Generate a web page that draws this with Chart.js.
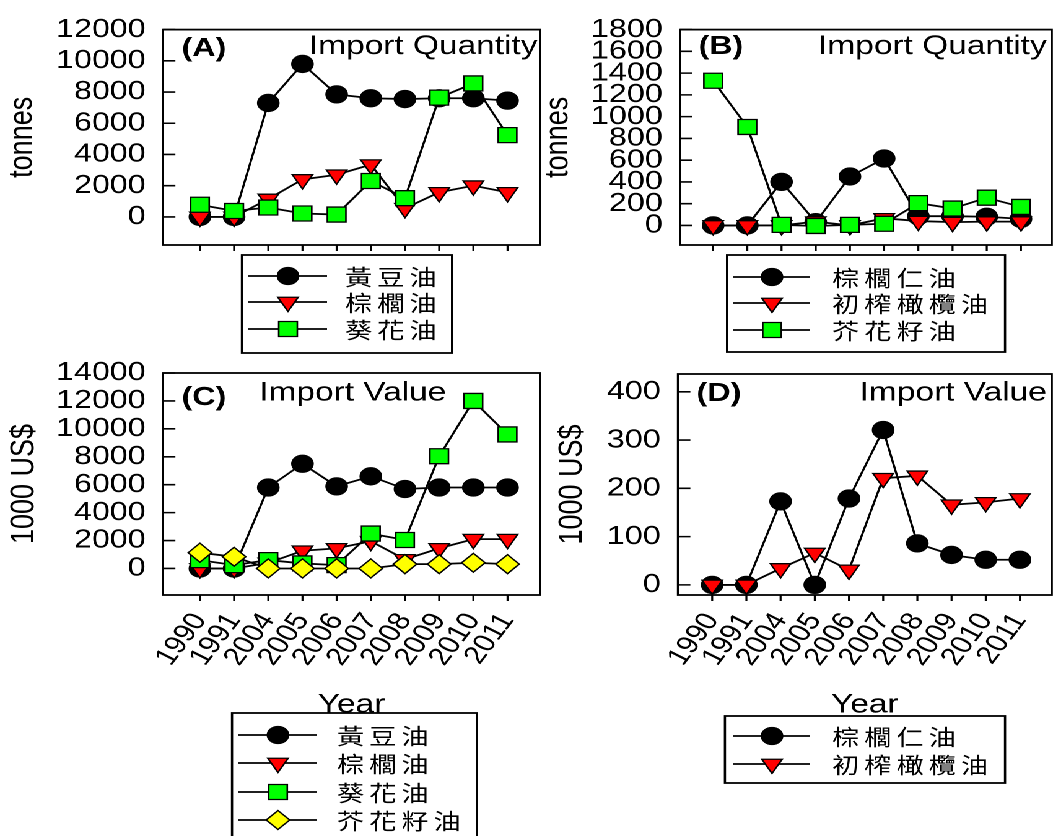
<!DOCTYPE html>
<html><head><meta charset="utf-8">
<script src="https://cdn.jsdelivr.net/npm/chart.js@4.4.1/dist/chart.umd.min.js"></script>
<style>
html,body{margin:0;padding:0;background:#fff;overflow:hidden;width:1053px;height:836px;}
#wrap{position:absolute;left:0;top:0;width:900px;height:836px;transform:scaleX(1.2388);transform-origin:0 0;}
#wrap canvas{position:absolute;left:0;top:0;}
</style></head><body>
<div id="wrap">
<canvas id="cA" width="900" height="836"></canvas>
<canvas id="cB" width="900" height="836"></canvas>
<canvas id="cC" width="900" height="836"></canvas>
<canvas id="cD" width="900" height="836"></canvas>
</div>
<script>
// ---------------- data ----------------
const years = ['1990','1991','2004','2005','2006','2007','2008','2009','2010','2011'];

// (A) Import Quantity, tonnes
const namesA = ['黃豆油','棕櫚油','葵花油'];
const soyQtyA    = [0, 0, 7300, 9800, 7850, 7600, 7550, 7600, 7600, 7450];
const palmQtyA   = [0, 0, 1150, 2400, 2700, 3350, 550, 1570, 2000, 1570];
const sunQtyA    = [780, 380, 600, 220, 150, 2300, 1200, 7640, 8550, 5240];
const yTicksA    = [0, 2000, 4000, 6000, 8000, 10000, 12000];

// (B) Import Quantity, tonnes
const namesB = ['棕櫚仁油','初榨橄欖油','芥花籽油'];
const pkQtyB     = [0, 0, 400, 30, 450, 615, 85, 85, 80, 60];
const oliveQtyB  = [0, 0, 0, 35, 0, 65, 40, 30, 35, 35];
const canolaQtyB = [1330, 905, 5, -5, 5, 15, 205, 155, 255, 170];
const yTicksB    = [0, 200, 400, 600, 800, 1000, 1200, 1400, 1600, 1800];

// (C) Import Value, 1000 US$
const namesC = ['黃豆油','棕櫚油','葵花油','芥花籽油'];
const soyValC    = [0, 0, 5800, 7500, 5880, 6600, 5690, 5800, 5800, 5800];
const palmValC   = [0, 0, 400, 1270, 1440, 1950, 650, 1440, 2100, 2100];
const sunValC    = [600, 240, 600, 360, 240, 2500, 2040, 8040, 12000, 9600];
const canolaValC = [1130, 840, 0, 0, 0, 0, 310, 310, 410, 310];
const yTicksC    = [0, 2000, 4000, 6000, 8000, 10000, 12000, 14000];

// (D) Import Value, 1000 US$
const namesD = ['棕櫚仁油','初榨橄欖油'];
const pkValD     = [0, 0, 173, 0, 179, 321, 86, 62, 52, 52];
const oliveValD  = [0, 0, 34, 66, 31, 221, 226, 166, 171, 179];
const yTicksD    = [0, 100, 200, 300, 400];

// ---------------- styles ----------------
const FONT = 'Liberation Sans';
const CW = 900;
const MK = {
  circle: {pointStyle:'circle',   pointRadius:8.5,  pointRotation:0,   color:'#000000'},
  tri:    {pointStyle:'triangle', pointRadius:9.5,  pointRotation:180, color:'#ff0000'},
  sq:     {pointStyle:'rect',     pointRadius:10.6, pointRotation:0,   color:'#00ff00'},
  dia:    {pointStyle:'rectRot',  pointRadius:9.5,  pointRotation:0,   color:'#ffff00'}
};

function series(label, vals, mk, order) {
  const m = MK[mk];
  return {
    label, data: vals.map((v, i) => ({x: i, y: v})),
    borderColor:'#000', borderWidth:1.8, tension:0, fill:false, clip:false, order,
    pointStyle:m.pointStyle, pointRadius:m.pointRadius, pointRotation:m.pointRotation,
    pointBackgroundColor:m.color, pointBorderColor:'#000', pointBorderWidth:1.3,
    pointHoverRadius:m.pointRadius
  };
}

function drawMarker(ctx, style, r, rotDeg, x, y, fill) {
  const rad = rotDeg * Math.PI / 180;
  ctx.beginPath();
  if (style === 'circle') {
    ctx.arc(x, y, r, 0, Math.PI * 2);
  } else if (style === 'triangle') {
    let a = rad;
    ctx.moveTo(x + Math.sin(a) * r, y - Math.cos(a) * r);
    a += 2 * Math.PI / 3;
    ctx.lineTo(x + Math.sin(a) * r, y - Math.cos(a) * r);
    a += 2 * Math.PI / 3;
    ctx.lineTo(x + Math.sin(a) * r, y - Math.cos(a) * r);
    ctx.closePath();
  } else if (style === 'rect') {
    const s = Math.SQRT1_2 * r;
    ctx.rect(x - s, y - s, 2 * s, 2 * s);
  } else if (style === 'rectRot') {
    ctx.moveTo(x - r, y); ctx.lineTo(x, y - r); ctx.lineTo(x + r, y); ctx.lineTo(x, y + r);
    ctx.closePath();
  }
  ctx.fillStyle = fill; ctx.fill();
  ctx.lineWidth = 1.3; ctx.strokeStyle = '#000'; ctx.stroke();
}

const framePlugin = {
  id: 'frame',
  beforeDatasetsDraw(chart, args, o) {
    const {ctx, chartArea: a} = chart;
    const xs = chart.scales.x, ys = chart.scales.y;
    ctx.save();
    ctx.strokeStyle = '#000';
    ctx.lineWidth = 1.8;
    ctx.strokeRect(a.left, a.top, a.right - a.left, a.bottom - a.top);
    ctx.lineWidth = 1.6;
    ctx.beginPath();
    ys.ticks.forEach(t => { const py = ys.getPixelForValue(t.value); ctx.moveTo(a.left, py); ctx.lineTo(a.left + 10, py); });
    xs.ticks.forEach(t => { const px = xs.getPixelForValue(t.value); ctx.moveTo(px, a.bottom); ctx.lineTo(px, a.bottom + 6); });
    ctx.stroke();
    ctx.fillStyle = '#000';
    ctx.textBaseline = 'middle';
    ctx.textAlign = 'left';
    ctx.font = 'bold 26px "Liberation Sans"';
    ctx.fillText(o.tag, a.left + 15, a.top + o.tagDy);
    ctx.font = o.titleSize + 'px "' + FONT + '"';
    if (o.titleAlign === 'center') {
      ctx.textAlign = 'center';
      ctx.fillText(o.title, (a.left + a.right) / 2 + 1, a.top + o.titleDy);
    } else {
      ctx.textAlign = 'right';
      ctx.fillText(o.title, a.right - o.titleDx, a.top + o.titleDy);
    }
    ctx.restore();
  },
  afterDraw(chart, args, o) {
    const L = o.legend;
    if (!L) return;
    const ctx = chart.ctx;
    ctx.save();
    ctx.strokeStyle = '#000';
    ctx.lineWidth = 1.8;
    ctx.strokeRect(L.box[0], L.box[1], L.box[2] - L.box[0], L.box[3] - L.box[1]);
    chart.data.datasets.forEach((ds, i) => {
      const y = L.rows[i];
      ctx.beginPath(); ctx.lineWidth = 1.8; ctx.strokeStyle = '#000';
      ctx.moveTo(L.line[0], y); ctx.lineTo(L.line[1], y); ctx.stroke();
      drawMarker(ctx, ds.pointStyle, ds.pointRadius, ds.pointRotation, L.mx, y, ds.pointBackgroundColor);
      ctx.fillStyle = '#000';
      ctx.font = '22px "Noto Sans CJK TC"';
      ctx.textBaseline = 'middle'; ctx.textAlign = 'left';
      if ('letterSpacing' in ctx) ctx.letterSpacing = '4px';
      ctx.fillText(ds.label, L.tx, y + 1);
      if ('letterSpacing' in ctx) ctx.letterSpacing = '0px';
    });
    ctx.restore();
  }
};

function makeChart(id, p) {
  new Chart(document.getElementById(id), {
    type: 'line',
    data: { datasets: p.datasets },
    plugins: [framePlugin],
    options: {
      responsive: false, animation: false, devicePixelRatio: 2, events: [],
      layout: { autoPadding: false, padding: { left: p.padL, top: p.top, right: CW - p.right, bottom: 836 - p.bottom - p.xH } },
      scales: {
        x: {
          type: 'linear', min: p.xMin, max: p.xMax,
          afterBuildTicks: s => { s.ticks = years.map((_, i) => ({value: i})); },
          grid: { display: false, drawTicks: false }, border: { display: false },
          ticks: p.xLabels ? {
            display: true, autoSkip: false, minRotation: 58, maxRotation: 58, padding: 13,
            color: '#000', font: { family: FONT, size: 25 },
            callback: v => years[v]
          } : { display: false },
          title: p.xLabels ? { display: true, text: 'Year', color: '#000', padding: 0, font: { family: FONT, size: 27 } } : { display: false },
          afterFit: s => { s.height = p.xH; }
        },
        y: {
          min: p.yMin, max: p.yMax,
          afterBuildTicks: s => { s.ticks = p.yTicks.map(v => ({value: v})); },
          grid: { display: false, drawTicks: false }, border: { display: false },
          ticks: { autoSkip: false, color: '#000', padding: 14, font: { family: FONT, size: 26 }, callback: v => String(v) },
          title: { display: true, text: p.yTitle, color: '#000', padding: 0, font: { family: FONT, size: 27 } },
          afterFit: s => { s.width = p.left - p.padL; }
        }
      },
      plugins: {
        legend: { display: false }, tooltip: { enabled: false },
        frame: p.frame
      }
    }
  });
}

// A
makeChart('cA', {
  datasets: [series(namesA[0], soyQtyA, 'circle', 4), series(namesA[1], palmQtyA, 'tri', 3), series(namesA[2], sunQtyA, 'sq', 2)],
  left: 131.6, right: 435.9, top: 27, bottom: 245, padL: 1.8, xH: 10,
  xMin: -1.08, xMax: 9.95, yMin: -1800, yMax: 12000, yTicks: yTicksA, yTitle: 'tonnes', xLabels: false,
  frame: { tag: '(A)', tagDy: 19, title: 'Import Quantity', titleSize: 27, titleDx: 2, titleDy: 17,
    legend: { box: [195.3, 255, 364.9, 353], rows: [276, 302, 329], line: [200.2, 264], mx: 232.5, tx: 278.5 } }
});
// B
makeChart('cB', {
  datasets: [series(namesB[0], pkQtyB, 'circle', 4), series(namesB[1], oliveQtyB, 'tri', 3), series(namesB[2], canolaQtyB, 'sq', 2)],
  left: 548.9, right: 849, top: 27, bottom: 245, padL: 434.4, xH: 10,
  xMin: -0.97, xMax: 9.9, yMin: -180, yMax: 1800, yTicks: yTicksB, yTitle: 'tonnes', xLabels: false,
  frame: { tag: '(B)', tagDy: 17, title: 'Import Quantity', titleSize: 27, titleDx: 4, titleDy: 17,
    legend: { box: [586.9, 255, 811.3, 352], rows: [277, 303, 330], line: [591.7, 653.9], mx: 623.2, tx: 671.6 } }
});
// C
makeChart('cC', {
  datasets: [series(namesC[0], soyValC, 'circle', 4), series(namesC[1], palmValC, 'tri', 3), series(namesC[2], sunValC, 'sq', 2), series(namesC[3], canolaValC, 'dia', 1)],
  left: 131.6, right: 435.9, top: 373, bottom: 595, padL: 3.4, xH: 126,
  xMin: -1.08, xMax: 9.95, yMin: -1900, yMax: 14000, yTicks: yTicksC, yTitle: '1000 US$', xLabels: true,
  frame: { tag: '(C)', tagDy: 25, title: 'Import Value', titleSize: 27, titleAlign: 'center', titleDy: 20,
    legend: { box: [187.3, 713, 385, 850], rows: [735, 763, 792, 820], line: [192.1, 255.9], mx: 224.4, tx: 272 } }
});
// D
makeChart('cD', {
  datasets: [series(namesD[0], pkValD, 'circle', 4), series(namesD[1], oliveValD, 'tri', 3)],
  left: 547.3, right: 849, top: 374, bottom: 595, padL: 446, xH: 126,
  xMin: -1.0, xMax: 9.93, yMin: -21, yMax: 437, yTicks: yTicksD, yTitle: '1000 US$', xLabels: true,
  frame: { tag: '(D)', tagDy: 20, title: 'Import Value', titleSize: 27, titleDx: 4, titleDy: 19,
    legend: { box: [585.2, 716, 811.3, 783], rows: [736, 764], line: [591.7, 653.9], mx: 623.2, tx: 671.6 } }
});
</script>
</body></html>
